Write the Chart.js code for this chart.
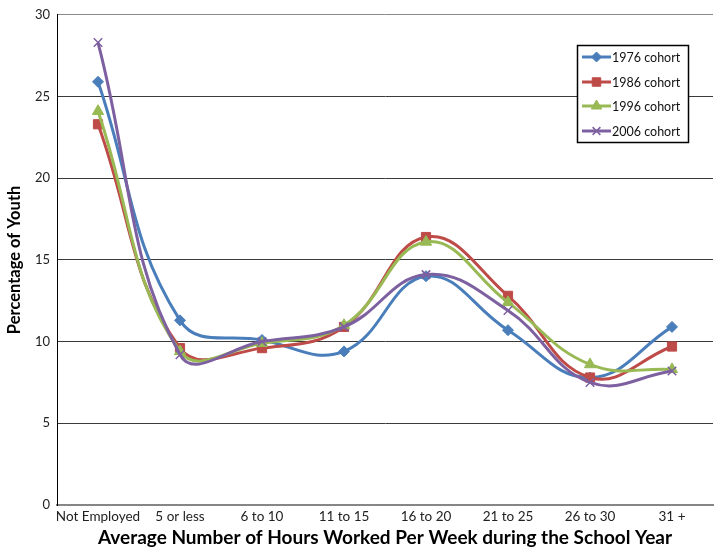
<!DOCTYPE html>
<html>
<head>
<meta charset="utf-8">
<script src="https://cdn.jsdelivr.net/npm/chart.js@4/dist/chart.umd.min.js"></script>
<style>
  html, body { margin: 0; padding: 0; background: #fff; }
  #wrap { width: 723px; height: 553px; position: relative; }
</style>
</head>
<body>
<div id="wrap"><canvas id="c" width="723" height="553"></canvas></div>
<script>
const categories = ["Not Employed", "5 or less", "6 to 10", "11 to 15", "16 to 20", "21 to 25", "26 to 30", "31 +"];
const cohort1976 = [25.9, 11.3, 10.1, 9.4, 14.0, 10.7, 7.8, 10.9];
const cohort1986 = [23.3, 9.6, 9.6, 10.9, 16.4, 12.8, 7.8, 9.7];
const cohort1996 = [24.1, 9.4, 9.9, 11.0, 16.1, 12.4, 8.6, 8.3];
const cohort2006 = [28.3, 9.2, 10.0, 10.9, 14.1, 11.9, 7.5, 8.2];
const seriesNames = ["1976 cohort", "1986 cohort", "1996 cohort", "2006 cohort"];
const yTicks = [0, 5, 10, 15, 20, 25, 30];

const colors = ["#4A7EBB", "#BE4B48", "#98B954", "#7D60A0"];
const styles = ["rectRot", "rect", "triangle", "crossRot"];
const radii = [5.5, 6.5, 6.5, 6];
const values = [cohort1976, cohort1986, cohort1996, cohort2006];
const FONT = "Lato, 'Open Sans', 'Liberation Sans', sans-serif";

const datasets = values.map((v, i) => ({
  label: seriesNames[i],
  data: v,
  borderColor: colors[i],
  backgroundColor: colors[i],
  borderWidth: 3,
  tension: 0.42,
  pointStyle: styles[i],
  pointRadius: radii[i],
  pointBackgroundColor: colors[i],
  pointBorderColor: colors[i],
  pointBorderWidth: i === 3 ? 1.5 : 1,
  order: 4 - i,
  clip: false
}));

const legendBox = {
  id: 'legendBox',
  afterDraw(chart) {
    const ctx = chart.ctx;
    ctx.save();
    ctx.strokeStyle = '#000';
    ctx.lineWidth = 1.5;
    ctx.fillStyle = '#fff';
    ctx.fillRect(577, 45, 111, 97);
    ctx.strokeRect(577.5, 45.5, 111, 97);
    const rows = [57, 82, 106, 131];
    for (let i = 0; i < 4; i++) {
      const y = rows[i];
      ctx.strokeStyle = colors[i];
      ctx.lineWidth = 3;
      ctx.beginPath();
      ctx.moveTo(582, y);
      ctx.lineTo(611, y);
      ctx.stroke();
      ctx.fillStyle = colors[i];
      ctx.strokeStyle = colors[i];
      ctx.lineWidth = i === 3 ? 1.5 : 1;
      Chart.helpers.drawPoint(ctx, { pointStyle: styles[i], radius: radii[i] - 0.5, rotation: 0, borderWidth: ctx.lineWidth }, 596.5, y);
      ctx.fillStyle = '#111';
      ctx.font = "12.5px " + FONT;
      ctx.textAlign = 'left';
      ctx.textBaseline = 'middle';
      ctx.fillText(seriesNames[i], 612, y + 0.5);
    }
    ctx.restore();
  }
};

new Chart(document.getElementById('c'), {
  type: 'line',
  data: { labels: categories, datasets },
  options: {
    responsive: false,
    animation: false,
    devicePixelRatio: 1,
    layout: { padding: { top: 13, right: 10, left: 0, bottom: 0 } },
    plugins: { legend: { display: false }, tooltip: { enabled: false } },
    scales: {
      x: {
        offset: true,
        grid: { display: false, drawTicks: false },
        border: { display: true, color: '#868686', width: 2 },
        ticks: { color: '#222', font: { family: FONT, size: 13.5 }, padding: 4, maxRotation: 0, autoSkip: false },
        title: {
          display: true,
          text: 'Average Number of Hours Worked Per Week during the School Year',
          color: '#000',
          font: { family: FONT, size: 19, weight: 'bold' },
          padding: { top: 0, bottom: 4 }
        },
        afterFit(scale) { scale.height = 48; }
      },
      y: {
        min: 0, max: 30,
        afterBuildTicks(scale) { scale.ticks = yTicks.map(v => ({ value: v })); },
        grid: { color: (c) => c.tick && c.tick.value === 30 ? '#888' : '#3a3a3a', lineWidth: 1, drawTicks: false },
        border: { display: true, color: '#000', width: 1 },
        ticks: { color: '#222', font: { family: FONT, size: 13 }, padding: 7 },
        title: {
          display: true,
          text: 'Percentage of Youth',
          color: '#000',
          font: { family: FONT, size: 16.5, weight: 'bold' },
          padding: { top: 5, bottom: 5 }
        },
        afterFit(scale) { scale.width = 57; }
      }
    }
  },
  plugins: [legendBox]
});
</script>
</body>
</html>
